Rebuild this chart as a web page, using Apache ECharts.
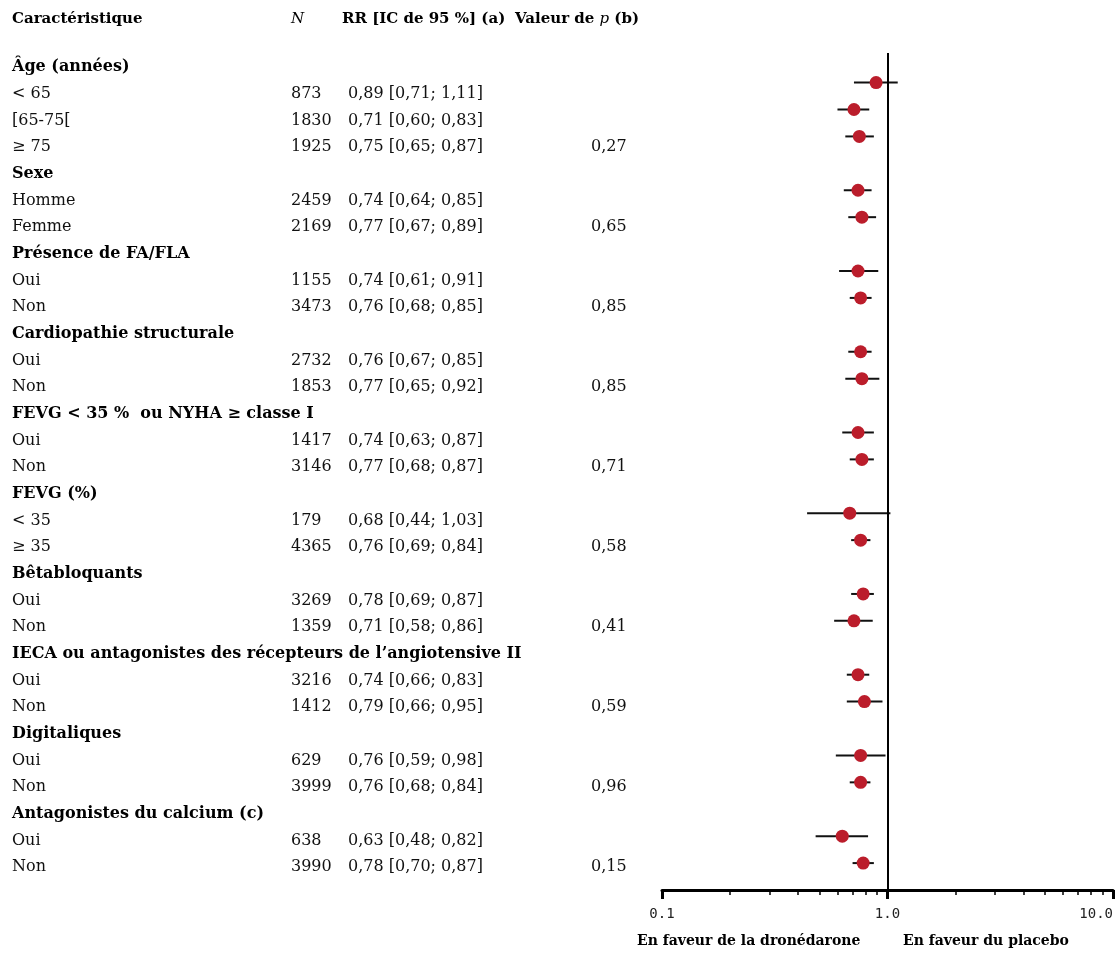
<!DOCTYPE html>
<html>
<head>
<meta charset="utf-8">
<title>Forest plot</title>
<script src="https://cdn.jsdelivr.net/npm/echarts@6/dist/echarts.min.js"></script>
<style>
html, body { margin: 0; padding: 0; background: #fff; }
#forest { width: 1116px; height: 953px; }
</style>
</head>
<body>
<div id="forest"></div>
<script>
// lignes du tableau (en-têtes de groupe + sous-groupes)
const labels = [
    'Âge (années)', '< 65', '[65-75[', '≥ 75',
    'Sexe', 'Homme', 'Femme',
    'Présence de FA/FLA', 'Oui', 'Non',
    'Cardiopathie structurale', 'Oui', 'Non',
    'FEVG < 35 %  ou NYHA ≥ classe I', 'Oui', 'Non',
    'FEVG (%)', '< 35', '≥ 35',
    'Bêtabloquants', 'Oui', 'Non',
    'IECA ou antagonistes des récepteurs de l’angiotensive II', 'Oui', 'Non',
    'Digitaliques', 'Oui', 'Non',
    'Antagonistes du calcium (c)', 'Oui', 'Non'
];
const isHeader = [
    1, 0, 0, 0,
    1, 0, 0,
    1, 0, 0,
    1, 0, 0,
    1, 0, 0,
    1, 0, 0,
    1, 0, 0,
    1, 0, 0,
    1, 0, 0,
    1, 0, 0
];
const nValues = [
    null, 873, 1830, 1925,
    null, 2459, 2169,
    null, 1155, 3473,
    null, 2732, 1853,
    null, 1417, 3146,
    null, 179, 4365,
    null, 3269, 1359,
    null, 3216, 1412,
    null, 629, 3999,
    null, 638, 3990
];
const rr = [
    null, 0.89, 0.71, 0.75,
    null, 0.74, 0.77,
    null, 0.74, 0.76,
    null, 0.76, 0.77,
    null, 0.74, 0.77,
    null, 0.68, 0.76,
    null, 0.78, 0.71,
    null, 0.74, 0.79,
    null, 0.76, 0.76,
    null, 0.63, 0.78
];
const ciLow = [
    null, 0.71, 0.60, 0.65,
    null, 0.64, 0.67,
    null, 0.61, 0.68,
    null, 0.67, 0.65,
    null, 0.63, 0.68,
    null, 0.44, 0.69,
    null, 0.69, 0.58,
    null, 0.66, 0.66,
    null, 0.59, 0.68,
    null, 0.48, 0.70
];
const ciHigh = [
    null, 1.11, 0.83, 0.87,
    null, 0.85, 0.89,
    null, 0.91, 0.85,
    null, 0.85, 0.92,
    null, 0.87, 0.87,
    null, 1.03, 0.84,
    null, 0.87, 0.86,
    null, 0.83, 0.95,
    null, 0.98, 0.84,
    null, 0.82, 0.87
];
const pValues = [
    null, null, null, 0.27,
    null, null, 0.65,
    null, null, 0.85,
    null, null, 0.85,
    null, null, 0.71,
    null, null, 0.58,
    null, null, 0.41,
    null, null, 0.59,
    null, null, 0.96,
    null, null, 0.15
];
const majorTicks = [0.1, 1, 10];
const minorTicks = [0.2, 0.3, 0.4, 0.5, 0.6, 0.7, 0.8, 0.9, 2, 3, 4, 5, 6, 7, 8, 9];

const SERIF = "'DejaVu Serif', 'Liberation Serif', serif";
const fr = v => v.toFixed(2).replace('.', ',');

const rowIds = labels.map((_, i) => String(i));
const nText = nValues.map(v => (v == null ? '' : String(v)));
const rrText = rr.map((v, i) => (v == null ? '' : fr(v) + ' [' + fr(ciLow[i]) + '; ' + fr(ciHigh[i]) + ']'));
const pText = pValues.map(v => (v == null ? '' : fr(v)));

const pointData = [];
const barData = [];
rr.forEach((v, i) => {
    if (v == null) return;
    pointData.push([v, i]);
    barData.push([ciLow[i], ciHigh[i], i]);
});

const richText = {
    h: { fontFamily: SERIF, fontWeight: 'bold', fontSize: 16, color: '#000' },
    r: { fontFamily: SERIF, fontSize: 16, color: '#111' }
};

// colonne de texte = axe catégorie invisible sur la grille du tableau
function textColumn(texts, x) {
    return {
        type: 'category',
        gridIndex: 0,
        inverse: true,
        position: 'left',
        offset: -x,
        data: rowIds,
        axisLine: { show: false },
        axisTick: { show: false },
        splitLine: { show: false },
        axisLabel: {
            interval: 0,
            margin: 0,
            align: 'left',
            formatter: (val, idx) => {
                const t = texts[idx];
                if (!t) return '';
                return isHeader[idx] ? '{h|' + t + '}' : '{r|' + t + '}';
            },
            rich: richText
        }
    };
}

const titleStyle = { fontFamily: SERIF, fontWeight: 'bold', fontSize: 15, color: '#000' };

const chart = echarts.init(document.getElementById('forest'));

const plotBox = { left: 662, right: 3, top: 53, bottom: 63 };

const option = {
    backgroundColor: '#fff',
    animation: false,
    title: [
        { text: 'Caractéristique', left: 12, top: 12, padding: 0, textStyle: titleStyle },
        { text: 'N', left: 291, top: 12, padding: 0, textStyle: Object.assign({}, titleStyle, { fontStyle: 'italic', fontWeight: 'normal' }) },
        { text: 'RR [IC de 95 %] (a)', left: 342, top: 12, padding: 0, textStyle: titleStyle },
        {
            text: '{b|Valeur de }{i|p}{b| (b)}', left: 515, top: 12, padding: 0,
            textStyle: {
                rich: {
                    b: titleStyle,
                    i: Object.assign({}, titleStyle, { fontStyle: 'italic', fontWeight: 'normal' })
                }
            }
        },
        { text: 'En faveur de la dronédarone', left: 637, top: 934, padding: 0, textStyle: Object.assign({}, titleStyle, { fontSize: 14 }) },
        { text: 'En faveur du placebo', left: 903, top: 934, padding: 0, textStyle: Object.assign({}, titleStyle, { fontSize: 14 }) }
    ],
    grid: [
        { left: 0, width: 660, top: 53.7, height: 826.7 },
        plotBox,
        // même emplacement, ne sert qu'aux petites graduations
        Object.assign({}, plotBox)
    ],
    xAxis: [
        { type: 'value', gridIndex: 0, show: false },
        {
            type: 'log',
            gridIndex: 1,
            position: 'bottom',
            logBase: 10,
            min: 0.1,
            max: 10,
            axisLine: { show: true, onZero: false, lineStyle: { color: '#000', width: 3 } },
            axisTick: { show: true, inside: false, length: 9, lineStyle: { color: '#000', width: 3 }, customValues: majorTicks },
            axisLabel: {
                customValues: majorTicks,
                margin: 17,
                color: '#222',
                fontFamily: "'DejaVu Sans Mono', monospace",
                fontSize: 14,
                alignMaxLabel: 'right',
                formatter: v => Number(v).toFixed(1)
            },
            splitLine: { show: false },
            minorTick: { show: false }
        },
        {
            type: 'log',
            gridIndex: 2,
            position: 'bottom',
            logBase: 10,
            min: 0.1,
            max: 10,
            axisLine: { show: false, onZero: false },
            axisTick: { show: true, length: 5, lineStyle: { color: '#000', width: 1.5 }, customValues: minorTicks },
            axisLabel: { show: false },
            splitLine: { show: false }
        }
    ],
    yAxis: [
        textColumn(labels, 12),
        textColumn(nText, 291),
        textColumn(rrText, 348),
        textColumn(pText, 591),
        {
            type: 'value',
            gridIndex: 1,
            inverse: true,
            min: -0.1,
            max: 31,
            show: false
        },
        { type: 'value', gridIndex: 2, show: false }
    ],
    series: [
        {
            name: 'IC 95 %',
            type: 'custom',
            xAxisIndex: 1,
            yAxisIndex: 4,
            data: barData,
            encode: { x: [0, 1], y: 2 },
            renderItem: (params, api) => {
                const a = api.coord([api.value(0), api.value(2)]);
                const b = api.coord([api.value(1), api.value(2)]);
                return {
                    type: 'line',
                    shape: { x1: a[0], y1: a[1], x2: b[0], y2: b[1] },
                    style: { stroke: '#111', lineWidth: 2 }
                };
            },
            z: 2
        },
        {
            name: 'RR',
            type: 'scatter',
            xAxisIndex: 1,
            yAxisIndex: 4,
            data: pointData,
            symbol: 'circle',
            symbolSize: 13,
            itemStyle: { color: '#bb1d2b', opacity: 1 },
            z: 3,
            markLine: {
                silent: true,
                symbol: 'none',
                label: { show: false },
                lineStyle: { color: '#000', width: 2, type: 'solid' },
                data: [{ xAxis: 1 }]
            }
        }
    ]
};

chart.setOption(option);
</script>
</body>
</html>
